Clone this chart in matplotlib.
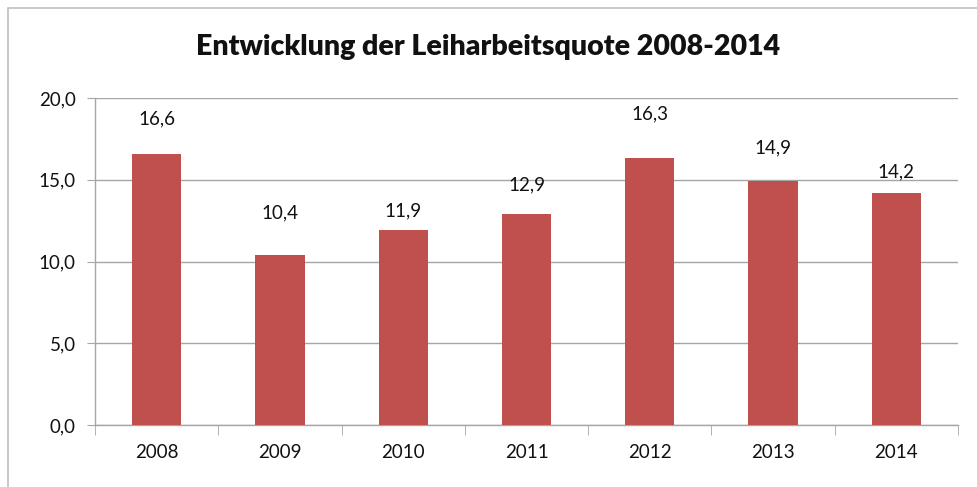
"""Bar chart: Entwicklung der Leiharbeitsquote 2008-2014."""

import matplotlib

matplotlib.use("Agg")
import matplotlib.pyplot as plt
from matplotlib.patches import Rectangle
from matplotlib.ticker import FuncFormatter, FixedLocator

years = ["2008", "2009", "2010", "2011", "2012", "2013", "2014"]
quote = [16.6, 10.4, 11.9, 12.9, 16.3, 14.9, 14.2]
# label offsets above bar top (points), as placed in the original
label_offsets = [25, 30, 14, 21, 32, 24, 15]

BAR = "#C0504D"
GRID = "#A6A6A6"

plt.rcParams["font.family"] = ["Lato", "DejaVu Sans"]

fig = plt.figure(figsize=(9.77, 4.87), dpi=100)
fig.patches.append(Rectangle((8 / 977, -0.2), 1.2, 1.2 - 8 / 487, transform=fig.transFigure,
                             fill=False, edgecolor="#BFBFBF", linewidth=1.2))
ax = fig.add_axes([95 / 977, 1 - 425 / 487, (958 - 95) / 977, (425 - 98) / 487])

x = range(len(years))
ax.bar(x, quote, width=0.4, color=BAR, zorder=3)
for i, v in enumerate(quote):
    ax.annotate(f"{v:.1f}".replace(".", ","), (i, v), xytext=(0, label_offsets[i]),
                textcoords="offset points", ha="center", va="center", fontsize=13.5, color="#111111")

ax.set_xlim(-0.5, len(years) - 0.5)
ax.set_ylim(0, 20)
ax.set_yticks([0, 5, 10, 15, 20])
ax.yaxis.set_major_formatter(FuncFormatter(lambda v, _: f"{v:.1f}".replace(".", ",")))
ax.yaxis.grid(True, color=GRID, linewidth=1, zorder=0)
ax.set_xticks(list(x))
ax.set_xticklabels(years)
ax.xaxis.set_minor_locator(FixedLocator([i - 0.5 for i in range(len(years) + 1)]))
ax.tick_params(axis="x", which="major", length=0, pad=14, labelsize=13.5, labelcolor="#111111")
ax.tick_params(axis="x", which="minor", length=7, color=GRID, direction="out")
ax.tick_params(axis="y", length=6, color=GRID, pad=8, labelsize=13.5, labelcolor="#111111")

for s in ("top", "right"):
    ax.spines[s].set_visible(False)
for s in ("left", "bottom"):
    ax.spines[s].set_color(GRID)
    ax.spines[s].set_linewidth(1)

fig.text(0.5, 1 - 47 / 487, "Entwicklung der Leiharbeitsquote 2008-2014", ha="center", va="center",
         fontsize=20.5, fontweight="heavy", color="#111111")

fig.savefig("out.png", dpi=100)
